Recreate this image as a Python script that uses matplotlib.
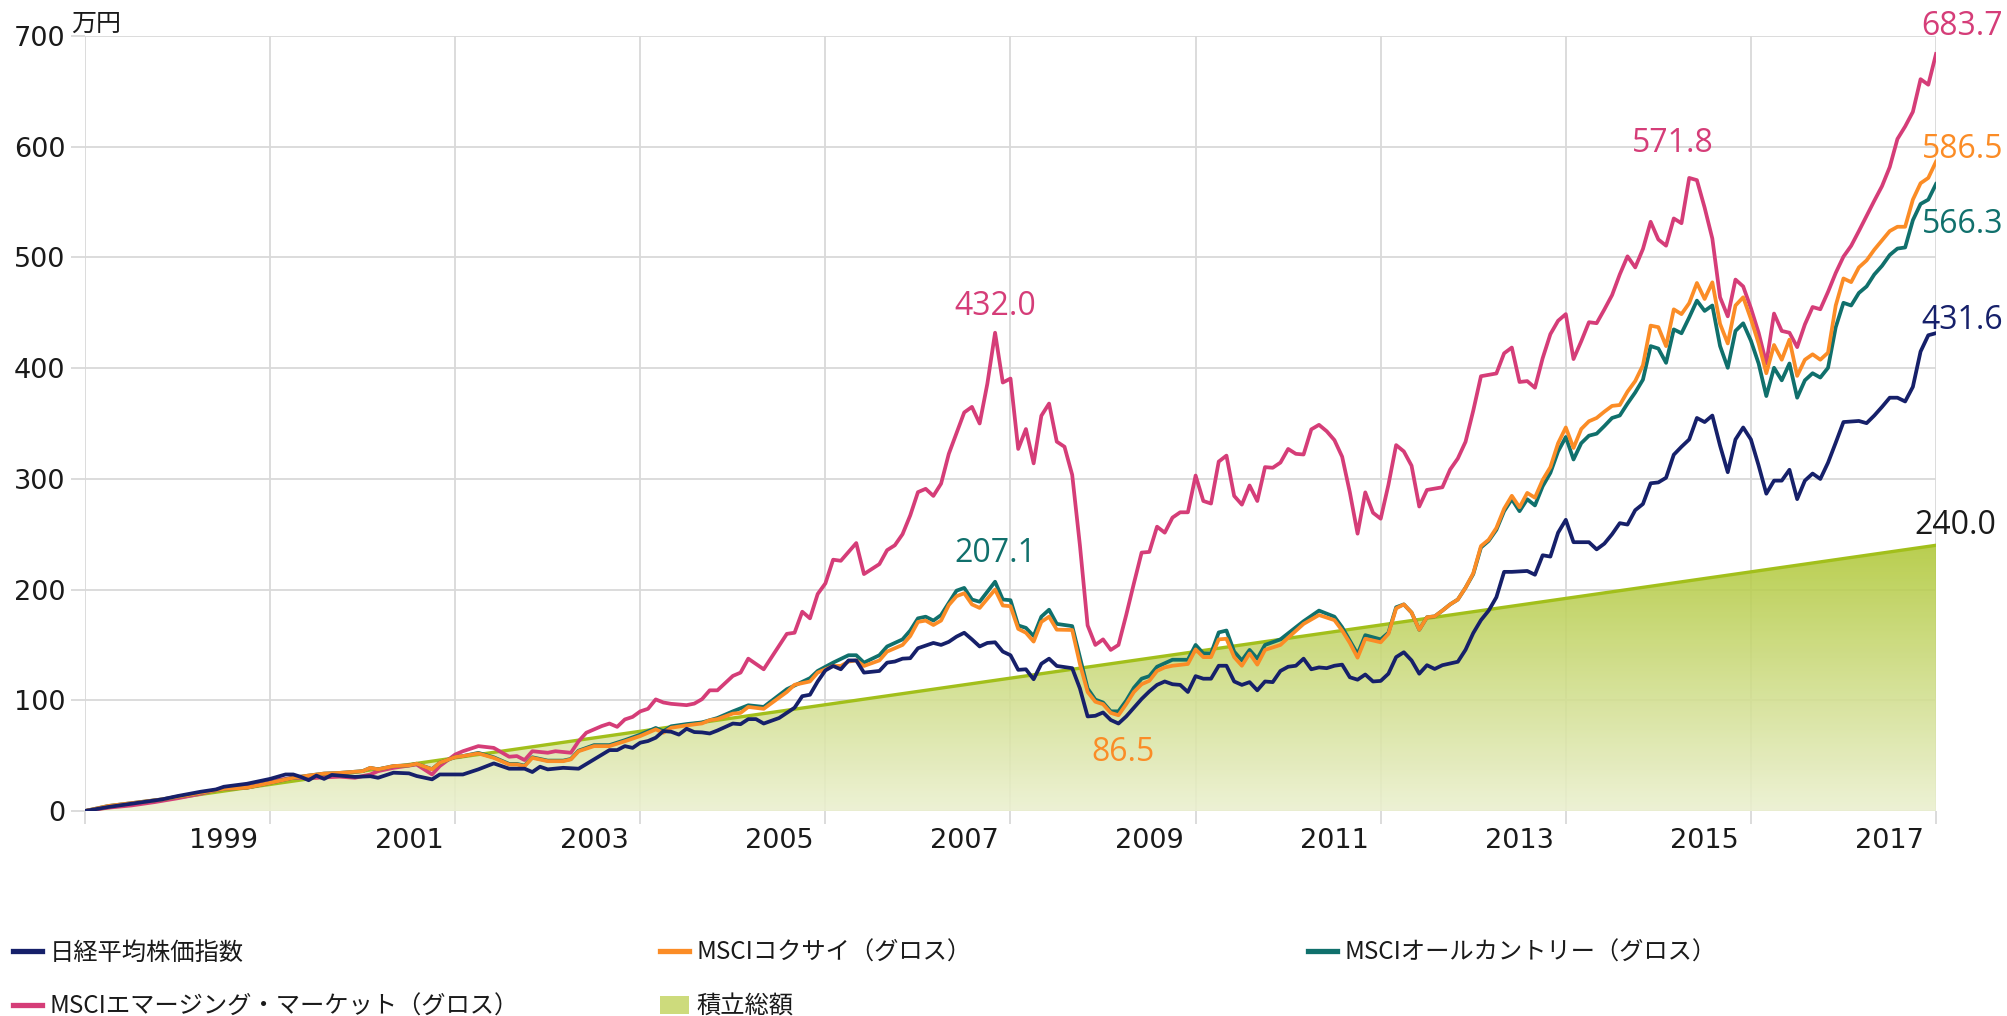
import numpy as np
import matplotlib
matplotlib.use("Agg")
import matplotlib.pyplot as plt
from matplotlib.lines import Line2D
from matplotlib.patches import Patch, Polygon
from matplotlib.colors import LinearSegmentedColormap
from matplotlib.font_manager import FontProperties

# ---------------- data (month index from start, value in 万円) ----------------
year_labels = ["1999", "2001", "2003", "2005", "2007", "2009", "2011", "2013", "2015", "2017"]
grid_months = [0, 24, 48, 72, 96, 120, 144, 168, 192, 216, 240]
label_months = [18, 42, 66, 90, 114, 138, 162, 186, 210, 234]
y_ticks = [0, 100, 200, 300, 400, 500, 600, 700]

nikkei_month = [0, 3, 7, 10, 12, 15, 17, 18, 21, 24, 26, 27, 28, 29, 30, 31, 32, 34, 35, 37, 38, 40, 42, 43, 45, 46,
                49, 51, 53, 55, 57, 58, 59, 60, 62, 64, 66, 68, 69, 70, 71, 72, 73, 74, 75, 76, 77, 78, 79, 80, 81, 82,
                84, 85, 86, 87, 88, 90, 92, 93, 94, 95, 96, 97, 98, 99, 100, 101, 103, 104, 105, 106, 107, 108, 110,
                111, 112, 113, 114, 115, 116, 117, 118, 119, 120, 121, 122, 123, 124, 125, 126, 128, 129, 130, 131,
                132, 133, 134, 135, 136, 137, 138, 139, 140, 141, 142, 143, 144, 145, 146, 147, 148, 149, 150, 151,
                152, 153, 154, 155, 156, 157, 158, 159, 160, 161, 162, 163, 164, 165, 166, 167, 168, 169, 170, 171,
                172, 173, 174, 175, 176, 178, 179, 180, 181, 182, 183, 184, 185, 187, 188, 189, 190, 191, 192, 193,
                195, 196, 197, 198, 199, 200, 201, 202, 203, 204, 205, 206, 207, 208, 209, 210, 211, 212, 213, 214,
                215, 216, 217, 218, 219, 220, 221, 222, 223, 224, 225, 226, 227, 228, 230, 231, 232, 233, 234, 235,
                236, 237, 238, 239, 240]
nikkei_value = [0, 3.6, 7.5, 10.5, 13.5, 17.4, 19.5, 21.9, 24.6, 29, 33, 33, 30.8, 27.8, 32, 29, 32.6, 31.4, 30.8,
                31.4, 30, 34.6, 34, 31.6, 28.6, 33, 33, 37.6, 43, 38.2, 38.2, 35.2, 40, 37.6, 39, 38.2, 46.6, 55, 55,
                58.6, 57, 61.7, 63.2, 66.2, 72.2, 71.6, 69, 74.3, 71.3, 71, 70, 72.7, 79, 78.4, 83, 83, 79, 84, 93.3,
                103.7, 105, 117, 127, 131, 128, 136, 136, 125, 126.5, 134, 135, 137.6, 138, 147, 151.8, 150, 152.8,
                157.5, 161, 155, 148.6, 151.8, 152.4, 144, 140.7, 127.5, 128, 119, 133, 137.6, 131, 129, 110.7, 85.4,
                86, 89, 82.2, 79, 85.4, 93.3, 101.2, 108, 113.9, 117, 114.5, 113.9, 107.5, 121.8, 119.5, 119.5, 131.2,
                131.2, 117, 113.9, 116.4, 109, 117, 116.4, 126.5, 130.3, 131.2, 137.6, 128, 129.7, 129, 131.2, 132.2,
                120.8, 118.6, 123.3, 117, 117.5, 124, 139, 143.4, 136, 124, 131.7, 128.3, 131.7, 134.8, 145.6, 160.7,
                172.4, 181, 193.1, 216, 216, 216.8, 213.4, 231, 229.8, 251.4, 263, 242.8, 242.8, 236.3, 241.5, 250,
                260, 258.7, 271.7, 277.3, 296, 296.8, 301, 321.8, 329, 335.6, 355, 351.3, 357.2, 330, 306, 335.6,
                346.4, 335.6, 312.1, 286.6, 298.4, 298.4, 308.2, 281.7, 298.4, 304.8, 299.9, 314.6, 332.7, 351.3,
                352.3, 350.3, 357.2, 365, 373.3, 373.3, 369.9, 383.1, 415, 429.7, 431.6]

kokusai_month = [0, 3, 10, 15, 18, 21, 24, 27, 29, 31, 33, 36, 37, 38, 40, 42, 43, 45, 46, 48, 49, 51, 53, 55, 56,
                 57, 58, 60, 62, 63, 64, 66, 68, 70, 72, 74, 75, 76, 78, 79, 80, 81, 82, 84, 85, 86, 88, 91, 92, 94,
                 95, 97, 98, 99, 100, 101, 103, 104, 106, 107, 108, 109, 110, 111, 112, 113, 114, 115, 116, 118, 119,
                 120, 121, 122, 123, 124, 125, 126, 128, 129, 130, 131, 132, 133, 134, 135, 136, 137, 138, 139, 140,
                 141, 143, 144, 145, 146, 147, 148, 149, 150, 151, 152, 153, 155, 156, 158, 160, 162, 163, 164, 165,
                 166, 168, 169, 170, 171, 172, 173, 174, 175, 176, 177, 178, 179, 180, 181, 182, 183, 184, 185, 186,
                 187, 188, 189, 190, 191, 192, 193, 194, 195, 196, 197, 198, 199, 200, 201, 202, 203, 204, 205, 206,
                 207, 208, 209, 210, 211, 212, 213, 214, 215, 216, 217, 218, 219, 220, 221, 222, 223, 224, 225, 226,
                 227, 228, 229, 230, 231, 232, 233, 234, 235, 236, 237, 238, 239, 240]
kokusai_value = [0, 4.5, 10.5, 16.5, 20, 21, 25.4, 30, 32, 33.8, 34.4, 36, 39, 37.6, 40.6, 41.2, 42.7, 37.6, 43.6,
                 48.7, 49.6, 52, 48, 42, 42, 40.6, 48, 45, 45, 46.6, 54, 58.6, 58.6, 63, 67.7, 73.7, 70.7, 75.2, 77.3,
                 78.2, 79.1, 82, 83, 88, 88.6, 94, 92.3, 107.5, 114, 117, 125, 131, 131, 135, 136, 131, 136, 144, 150,
                 158, 170.8, 172, 168, 172, 186, 194, 196.7, 186.6, 183.4, 200, 185.6, 185, 164.5, 161, 153, 170.8,
                 175.5, 163.8, 163.5, 132.8, 107.5, 98.7, 96.5, 88.6, 86.5, 96.5, 107.5, 114.5, 117.6, 126.5, 129.7,
                 131.2, 132.8, 146, 139, 139, 155, 155.6, 139, 131.2, 142.3, 132.2, 145.5, 150, 156.5, 169, 177, 172.4,
                 163, 151.8, 138.5, 155.6, 152.4, 160, 183, 186.6, 179.3, 163.7, 175, 175.8, 181, 186.6, 191, 201.7,
                 214.7, 239.3, 245, 255.7, 273, 284.7, 274.3, 287.3, 283, 299, 310.6, 332.2, 346.4, 327.9, 345, 352,
                 355, 360.7, 365.9, 366.7, 378.8, 388.3, 402.6, 438.4, 437, 419.9, 453.1, 448.8, 458.7, 476.9, 462.5,
                 477.5, 440, 422.3, 456.6, 464, 444.4, 422.3, 395.4, 420.9, 407.6, 425.8, 393, 407.6, 412.5, 407.6,
                 414, 456.6, 481, 477.7, 491, 497.3, 507, 515.4, 523.8, 527.7, 527.7, 552.2, 567, 571.8, 586.5]

acwi_month = [0, 3, 10, 15, 18, 21, 24, 27, 29, 31, 33, 36, 37, 38, 40, 42, 43, 45, 46, 48, 49, 51, 53, 55, 56, 57,
              58, 60, 62, 63, 64, 66, 68, 70, 72, 74, 75, 76, 78, 80, 82, 84, 86, 88, 91, 94, 95, 97, 99, 100, 101,
              103, 104, 106, 107, 108, 109, 110, 111, 113, 114, 115, 116, 118, 119, 120, 121, 122, 123, 124, 125,
              126, 128, 129, 130, 131, 132, 133, 134, 135, 136, 137, 138, 139, 141, 143, 144, 145, 146, 147, 148,
              149, 150, 151, 152, 153, 155, 158, 160, 162, 163, 165, 166, 168, 169, 170, 171, 172, 173, 174, 175,
              176, 177, 178, 179, 180, 181, 182, 183, 184, 185, 186, 187, 188, 189, 190, 191, 192, 193, 194, 195,
              196, 197, 198, 199, 200, 201, 202, 203, 204, 205, 206, 207, 208, 209, 210, 211, 212, 213, 214, 215,
              216, 217, 218, 219, 220, 221, 222, 223, 224, 225, 226, 227, 228, 229, 230, 231, 232, 233, 234, 235,
              236, 237, 238, 239, 240]
acwi_value = [0, 4.5, 10.5, 16.5, 20, 21, 25.4, 30, 32, 33.8, 34.4, 36, 39, 37.6, 40.6, 41.2, 42.7, 37.8, 43.6, 48.7,
              49.6, 52.5, 48.5, 42.5, 42.5, 41, 48.5, 45.5, 45.5, 47, 54.5, 59.5, 59.5, 64, 69, 75, 72, 76.5, 78.5,
              80, 84, 90, 95.5, 94, 110, 120, 126.5, 134, 140.7, 140.7, 134, 140.7, 148.6, 155, 163, 174, 175.5, 172,
              177, 199, 201.5, 191, 189, 207.1, 191, 190.4, 167.6, 165.4, 158, 175.5, 181.8, 169, 167, 139, 110.7,
              100.6, 98, 90, 90, 99.6, 111.3, 119.5, 121.8, 130.3, 136.6, 136.6, 150, 142.3, 142.3, 161.3, 163, 144,
              136, 145.5, 137.6, 150, 155, 171.4, 181, 175.5, 166, 141.7, 158.8, 155, 161, 184, 186.6, 179.3, 163.7,
              175, 175.8, 181, 186.6, 191, 201.7, 214, 238, 244, 254, 270.8, 281.6, 270.8, 281.6, 276, 293.3, 305.4,
              324.8, 337.8, 317.5, 332.2, 339, 340.8, 347.7, 355, 357.2, 368, 378, 389.6, 419.9, 417.7, 404.8, 435,
              431.5, 445.8, 461, 451.7, 456.6, 420, 400.3, 433.6, 440.5, 424.8, 404.2, 374.8, 400.3, 389, 404.2,
              373.3, 389, 395.4, 391.5, 400.3, 437, 459, 456.6, 467.9, 473.8, 484.6, 492.4, 502.2, 508, 509, 533.6,
              548.3, 552.2, 566.3]

em_month = [0, 3, 6, 9, 12, 15, 18, 21, 24, 27, 30, 33, 35, 37, 38, 40, 43, 45, 46, 48, 49, 51, 53, 55, 56, 57, 58,
            60, 61, 63, 64, 65, 67, 68, 69, 70, 71, 72, 73, 74, 75, 76, 78, 79, 80, 81, 82, 84, 85, 86, 88, 91, 92,
            93, 94, 95, 96, 97, 98, 99, 100, 101, 103, 104, 105, 106, 107, 108, 109, 110, 111, 112, 114, 115, 116,
            117, 118, 119, 120, 121, 122, 123, 124, 125, 126, 127, 128, 129, 130, 131, 132, 133, 134, 135, 136, 137,
            138, 139, 140, 141, 142, 143, 144, 145, 146, 147, 148, 149, 150, 151, 152, 153, 154, 155, 156, 157, 158,
            159, 160, 161, 162, 163, 164, 165, 166, 167, 168, 169, 170, 171, 172, 173, 174, 176, 177, 178, 179, 180,
            181, 183, 184, 185, 186, 187, 188, 189, 190, 191, 192, 193, 194, 195, 196, 197, 198, 199, 200, 201, 202,
            203, 204, 205, 206, 207, 208, 209, 210, 211, 212, 213, 214, 215, 216, 217, 218, 219, 220, 221, 222, 223,
            224, 225, 226, 227, 228, 229, 230, 231, 232, 233, 234, 235, 236, 237, 238, 239, 240]
em_value = [0, 3, 5, 8, 11.5, 15.5, 21, 23, 27, 30, 30, 31, 30, 33, 36, 39, 42, 33, 40.6, 51, 54, 58.6, 57, 49, 49.6,
            46, 54, 52.6, 54, 52.6, 63, 70.7, 76.7, 79, 76, 82.7, 85, 90, 92.3, 100.8, 98, 96.8, 95.6, 97, 101, 109,
            109, 122, 125, 137.6, 128, 160, 161, 180, 174, 196, 205.6, 227, 226, 234, 242, 214, 223, 235.6, 240, 250,
            267, 288, 291, 284.6, 295.7, 322.6, 360, 365, 350, 386, 432.0, 387, 390.6, 327, 345, 314, 357, 368, 333.6,
            329, 303.6, 240, 167.6, 150, 155, 145.5, 150, 177, 205.6, 233.4, 234, 256.8, 251.4, 265, 269.8, 269.8,
            303, 280, 277.7, 315.6, 321, 284.6, 276.7, 294, 280, 310.6, 310, 314.7, 327, 322.6, 322, 344.7, 348.8,
            343, 335, 320, 287.8, 250.5, 287.8, 269.4, 264, 294.6, 330.5, 324.8, 311.9, 275, 290, 292.4, 308.4, 318.4,
            333.5, 361.6, 392.7, 395.2, 413.4, 418.6, 387.5, 388.3, 382.3, 409, 430.7, 442.8, 448.8, 408.2, 424.2,
            441.5, 440.6, 453, 466, 484.7, 501, 491, 507.6, 532.2, 516.2, 510.6, 535.2, 530.9, 571.8, 569.8, 545, 517,
            464, 446.8, 480, 473.8, 454.2, 432, 404.2, 449.3, 433.6, 432, 419, 439.5, 455.2, 453.2, 468.9, 486, 500.7,
            510.5, 523.8, 537.5, 551.2, 564.4, 581.6, 607, 618.3, 631.5, 661, 656, 683.7]

accum_month = [0, 240]
accum_value = [0.0, 240.0]

names = ["日経平均株価指数", "MSCIコクサイ（グロス）", "MSCIオールカントリー（グロス）",
         "MSCIエマージング・マーケット（グロス）", "積立総額"]

# ---------------- styling ----------------
c_nk = "#16206a"
c_ko = "#fb8c26"
c_ac = "#10706c"
c_em = "#d53d78"
c_acc = "#a2bf1b"
grid_c = "#d9d9d9"

W, H = 2007, 1016
fig = plt.figure(figsize=(W / 100, H / 100), dpi=100)
ax = fig.add_axes([85 / W, (H - 811) / H, (1936 - 85) / W, (811 - 36) / H])
for s in ax.spines.values():
    s.set_visible(False)

ax.set_yticks(y_ticks)
ax.set_yticklabels([str(v) for v in y_ticks])
ax.set_xticks(grid_months)
ax.set_xticklabels([])
ax.set_xticks(label_months, minor=True)
ax.set_xticklabels(year_labels, minor=True)
ax.grid(True, which="major", color=grid_c, lw=1.3, zorder=0)
ax.set_axisbelow(True)
ax.tick_params(axis="y", which="major", length=10, width=1.3, color=grid_c, pad=4, labelsize=19.5,
               labelcolor="#1a1a1a")
ax.tick_params(axis="x", which="major", length=9, width=1.3, color=grid_c, direction="out")
ax.tick_params(axis="x", which="minor", length=0, pad=12, labelsize=19.5, labelcolor="#1a1a1a")

# accumulated total: gradient area
verts = [(accum_month[0], 0)] + list(zip(accum_month, accum_value)) + [(accum_month[-1], 0)]
clip = Polygon(verts, closed=True, facecolor="none", edgecolor="none")
ax.add_patch(clip)
cmap = LinearSegmentedColormap.from_list("acc", ["#ebf0cf", "#b0c838"])
grad = np.linspace(0, 1, 256).reshape(-1, 1)
im = ax.imshow(grad, extent=[accum_month[0], accum_month[-1], 0, accum_value[-1]], origin="lower",
               cmap=cmap, aspect="auto", alpha=0.88, zorder=1)
im.set_clip_path(clip)
ax.plot(accum_month, accum_value, color=c_acc, lw=2.4, zorder=2)

lw = 2.7
ax.plot(em_month, em_value, color=c_em, lw=lw, zorder=3)
ax.plot(acwi_month, acwi_value, color=c_ac, lw=lw, zorder=4)
ax.plot(kokusai_month, kokusai_value, color=c_ko, lw=lw, zorder=5)
ax.plot(nikkei_month, nikkei_value, color=c_nk, lw=lw, zorder=6)
ax.set_xlim(0, 240)
ax.set_ylim(0, 700)

# value annotations
afont = dict(family=["Open Sans", "DejaVu Sans"], size=23)


def note(x, y, txt, col, dx, dy):
    ax.annotate(txt, xy=(x, y), xytext=(dx, dy), textcoords="offset points", ha="center", va="center",
                color=col, annotation_clip=False, **afont)


def extreme(months, values, lo, hi, fn):
    idx = [k for k, m in enumerate(months) if lo <= m <= hi]
    vals = [values[k] for k in idx]
    k = idx[int(fn(vals))]
    return months[k], values[k]


note(em_month[-1], em_value[-1], f"{em_value[-1]:.1f}", c_em, 19, 20)
note(kokusai_month[-1], kokusai_value[-1], f"{kokusai_value[-1]:.1f}", c_ko, 19, 9)
note(acwi_month[-1], acwi_value[-1], f"{acwi_value[-1]:.1f}", c_ac, 19, -29)
note(nikkei_month[-1], nikkei_value[-1], f"{nikkei_value[-1]:.1f}", c_nk, 19, 9)
note(accum_month[-1], accum_value[-1], f"{accum_value[-1]:.1f}", "#1a1a1a", 14, 14)
m, v = extreme(em_month, em_value, 100, 140, np.argmax)
note(m, v, f"{v:.1f}", c_em, 0, 19)
m, v = extreme(em_month, em_value, 190, 230, np.argmax)
note(m, v, f"{v:.1f}", c_em, -12, 25)
m, v = extreme(acwi_month, acwi_value, 100, 140, np.argmax)
note(m, v, f"{v:.1f}", c_ac, 0, 20)
m, v = extreme(kokusai_month, kokusai_value, 120, 150, np.argmin)
note(m, v, f"{v:.1f}", c_ko, 3, -27)

# unit label
fig.text(71 / W, 1 - 31 / H, "万円", ha="left", va="baseline",
         family=["Noto Sans CJK JP", "DejaVu Sans"], fontsize=18, color="#1a1a1a")

# legend
lp = FontProperties(family=["Noto Sans CJK JP", "DejaVu Sans"], size=17.5)
h_nk = Line2D([], [], color=c_nk, lw=3.8)
h_ko = Line2D([], [], color=c_ko, lw=3.8)
h_ac = Line2D([], [], color=c_ac, lw=3.8)
h_em = Line2D([], [], color=c_em, lw=3.8)
h_acc = Patch(facecolor="#cddb7c", edgecolor="none")
common = dict(loc="upper left", frameon=False, prop=lp, handlelength=1.2, handleheight=0.75,
              handletextpad=0.3, labelspacing=1.12, borderpad=0, borderaxespad=0, labelcolor="#1a1a1a")
top = 1 - 940 / H
fig.legend([h_nk, h_em], [names[0], names[3]], bbox_to_anchor=(13 / W, top), **common)
fig.legend([h_ko, h_acc], [names[1], names[4]], bbox_to_anchor=(660 / W, top), **common)
fig.legend([h_ac], [names[2]], bbox_to_anchor=(1308 / W, top), **common)

fig.savefig("out.png", dpi=100)
